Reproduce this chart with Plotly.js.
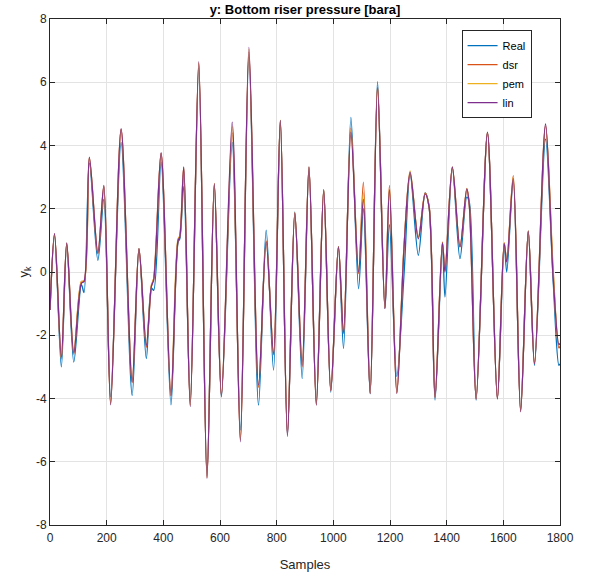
<!DOCTYPE html>
<html>
<head>
<meta charset="utf-8">
<script src="https://cdn.plot.ly/plotly-3.0.1.min.js"></script>
<style>html,body{margin:0;padding:0;background:#fff;}#chart{width:601px;height:579px;}</style>
</head>
<body>
<div id="chart"></div>
<script>
const samples = [0,16,40,59,84,111,120,139,169,190,214,251,290,314,340,358,366,392,427,452,458,472,495,525,554,580,605,643,672,702,736,763,789,813,838,864,890,914,940,966,991,1018,1036,1062,1089,1106,1130,1156,1182,1198,1224,1250,1271,1300,1324,1338,1359,1385,1394,1420,1447,1471,1480,1504,1544,1579,1603,1612,1635,1661,1688,1710,1749,1776,1796,1800];
const realVals = [-1.2,1.15,-3.0,0.88,-2.85,-0.4,-0.65,3.45,0.37,2.3,-3.95,4.1,-3.9,0.74,-2.74,-0.5,-0.58,3.47,-4.2,0.95,1.05,2.7,-4.1,6.45,-6.45,2.75,-3.95,4.1,-5.0,6.8,-4.21,1.32,-3.1,4.79,-5.15,1.9,-3.37,3.3,-4.1,2.6,-3.8,0.8,-2.42,4.89,-0.53,2.0,-3.85,6.02,-1.16,1.5,-3.3,0.0,3.1,0.53,2.5,2.05,-4.05,0.9,-0.79,3.3,0.42,2.37,2.2,-4.05,4.4,-4.0,0.9,0.0,2.9,-4.35,1.3,-2.95,4.2,-0.3,-2.95,-2.9];
const dsrVals = [-1.2,1.2,-2.75,0.9,-2.6,-0.3,-0.3,3.6,0.58,2.7,-4.15,4.5,-3.5,0.72,-2.38,-0.45,-0.2,3.75,-3.92,1.02,1.15,3.3,-4.2,6.6,-6.5,2.78,-3.92,4.4,-5.3,6.95,-3.65,0.98,-2.62,4.77,-5.1,1.88,-3.0,3.3,-4.18,2.6,-3.76,0.8,-1.95,4.55,-0.05,2.84,-3.84,5.9,-1.15,2.74,-3.8,0.9,3.12,1.1,2.5,2.08,-3.98,0.95,0.05,3.3,0.8,2.62,2.12,-4.02,4.4,-4.02,0.92,0.35,3.05,-4.4,1.3,-2.9,4.62,0.05,-2.4,-2.35];
const pemVals = [-1.2,1.2,-2.72,0.91,-2.5,-0.3,-0.28,3.62,0.6,2.72,-4.18,4.52,-3.45,0.75,-2.3,-0.4,-0.22,3.76,-3.88,1.05,1.12,3.3,-4.22,6.62,-6.5,2.8,-3.88,4.6,-5.32,7.05,-3.6,0.96,-2.55,4.8,-5.15,1.87,-2.92,3.32,-4.2,2.6,-3.72,0.8,-1.88,4.48,0.05,2.5,-3.82,5.86,-1.12,2.65,-3.82,0.88,3.2,1.08,2.48,2.06,-3.93,0.93,0.02,3.32,0.8,2.64,2.1,-3.98,4.42,-3.98,0.92,0.34,3.0,-4.4,1.29,-2.88,4.65,-0.05,-2.3,-2.28];
const linVals = [-1.2,1.21,-2.7,0.92,-2.55,-0.35,-0.3,3.63,0.6,2.74,-4.2,4.53,-3.47,0.74,-2.32,-0.45,-0.25,3.77,-3.9,1.0,1.1,3.32,-4.26,6.65,-6.53,2.79,-3.9,4.74,-5.37,7.1,-3.58,0.95,-2.58,4.79,-5.2,1.86,-2.95,3.32,-4.21,2.58,-3.74,0.79,-1.9,4.42,0.0,2.3,-3.84,5.84,-1.16,2.6,-3.84,0.84,3.16,1.05,2.47,2.05,-3.95,0.92,0.0,3.32,0.79,2.63,2.1,-4.0,4.42,-4.0,0.9,0.32,2.95,-4.42,1.28,-2.9,4.68,-0.2,-2.3,-2.25];
const seriesNames = ['Real','dsr','pem','lin'];
const seriesColors = ['#0072BD','#D95319','#EDB120','#7E2F8E'];
const xTicks = [0,200,400,600,800,1000,1200,1400,1600,1800];
const yTicks = [-8,-6,-4,-2,0,2,4,6,8];

const FONT = '"Liberation Sans",Arial,Helvetica,sans-serif';
const allVals = [realVals, dsrVals, pemVals, linVals];
const traces = allVals.map((v, i) => ({
  x: samples, y: v, type: 'scatter', mode: 'lines', name: seriesNames[i],
  line: {color: seriesColors[i], width: 1.3, shape: 'spline', smoothing: 0.9}
}));

const axisCommon = {
  ticks: 'inside', ticklen: 5, tickcolor: '#262626', tickwidth: 1,
  showline: true, linecolor: '#262626', linewidth: 1, mirror: 'ticks',
  showgrid: true, gridcolor: '#e3e3e3', gridwidth: 1, zeroline: false,
  tickfont: {family: FONT, size: 12, color: '#262626'}
};

const layout = {
  width: 601, height: 579,
  margin: {l: 50, r: 41, t: 19, b: 54},
  paper_bgcolor: '#ffffff', plot_bgcolor: '#ffffff',
  font: {family: FONT, color: '#262626'},
  title: {text: '<b>y: Bottom riser pressure [bara]</b>', font: {family: FONT, size: 13, color: '#000'},
          x: 0.5, xref: 'paper', y: 1 - 9/579, yref: 'container', yanchor: 'middle'},
  xaxis: Object.assign({}, axisCommon, {range: [0, 1800], tickvals: xTicks, ticktext: xTicks.map(String),
          ticklabelstandoff: 2,
          title: {text: 'Samples', font: {family: FONT, size: 13, color: '#262626'}, standoff: 15}}),
  yaxis: Object.assign({}, axisCommon, {range: [-8, 8], tickvals: yTicks, ticktext: yTicks.map(String),
          title: {text: 'y<sub>k</sub>', font: {family: FONT, size: 13, color: '#262626'}, standoff: 4}}),
  legend: {x: 0.807, y: 0.978, xanchor: 'left', yanchor: 'top', bgcolor: '#fff',
           bordercolor: '#262626', borderwidth: 1, font: {family: FONT, size: 11, color: '#000'},
           tracegroupgap: 0, itemwidth: 30},
  showlegend: true
};

Plotly.newPlot('chart', traces, layout, {displayModeBar: false, staticPlot: true});
</script>
</body>
</html>
